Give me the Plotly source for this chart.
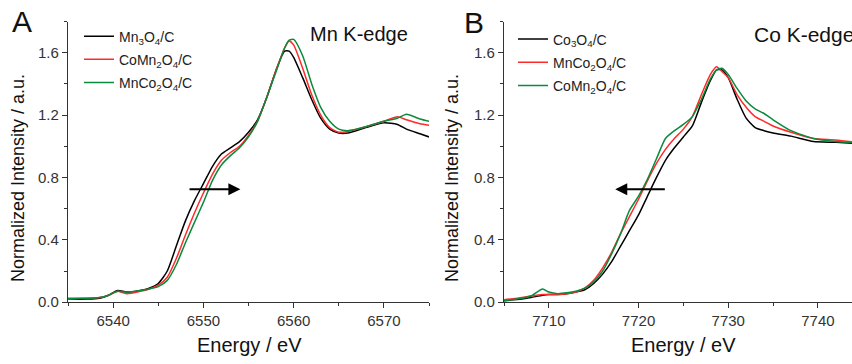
import plotly.graph_objects as go

# ---------------- Data ----------------
# Panel A: Mn K-edge
energy_mn = [6535, 6537, 6538.5, 6539.5, 6540.5, 6541.5, 6543, 6544, 6545, 6546, 6547, 6548,
             6549, 6550, 6551, 6552, 6553, 6554, 6555, 6556, 6557, 6558, 6559, 6559.5, 6560,
             6561, 6562, 6563, 6564, 6565, 6566, 6568, 6570, 6571.5, 6572.5, 6574, 6575]
mn3o4_c = [0.02, 0.02, 0.025, 0.045, 0.075, 0.065, 0.075, 0.09, 0.12, 0.20, 0.36, 0.52,
           0.65, 0.76, 0.87, 0.95, 0.99, 1.03, 1.09, 1.17, 1.31, 1.48, 1.61, 1.61, 1.57,
           1.44, 1.30, 1.18, 1.11, 1.085, 1.085, 1.12, 1.15, 1.14, 1.11, 1.08, 1.06]
comn2o4_c_mn = [0.02, 0.025, 0.03, 0.045, 0.07, 0.055, 0.07, 0.085, 0.11, 0.16, 0.28, 0.43,
                0.57, 0.70, 0.82, 0.91, 0.96, 1.00, 1.07, 1.16, 1.31, 1.48, 1.63, 1.675, 1.65,
                1.50, 1.33, 1.20, 1.12, 1.09, 1.095, 1.125, 1.16, 1.19, 1.17, 1.145, 1.135]
mnco2o4_c_mn = [0.025, 0.025, 0.03, 0.045, 0.07, 0.065, 0.075, 0.085, 0.10, 0.14, 0.24, 0.38,
                0.51, 0.64, 0.78, 0.88, 0.94, 0.99, 1.06, 1.16, 1.31, 1.47, 1.63, 1.68, 1.685,
                1.58, 1.40, 1.25, 1.16, 1.11, 1.10, 1.125, 1.16, 1.18, 1.205, 1.175, 1.16]

# Panel B: Co K-edge
energy_co = [7705, 7707, 7708, 7709.3, 7710, 7711, 7712, 7713, 7714, 7715, 7716, 7717, 7718,
             7719, 7720, 7721, 7722, 7723, 7724, 7725, 7726, 7727, 7728, 7728.7, 7729.3, 7730,
             7731, 7732, 7733, 7734, 7735, 7737, 7739.5, 7742, 7745]
co3o4_c = [0.01, 0.02, 0.03, 0.045, 0.05, 0.05, 0.055, 0.065, 0.08, 0.12, 0.18, 0.26, 0.36,
           0.46, 0.56, 0.68, 0.80, 0.91, 0.99, 1.06, 1.13, 1.28, 1.42, 1.49, 1.49, 1.44,
           1.30, 1.18, 1.12, 1.10, 1.085, 1.065, 1.03, 1.025, 1.015]
mnco2o4_c_co = [0.015, 0.03, 0.04, 0.05, 0.05, 0.05, 0.055, 0.065, 0.09, 0.14, 0.22, 0.32, 0.44,
                0.55, 0.66, 0.78, 0.89, 0.98, 1.05, 1.11, 1.19, 1.33, 1.46, 1.51, 1.48, 1.44,
                1.33, 1.25, 1.19, 1.16, 1.13, 1.09, 1.05, 1.04, 1.02]
comn2o4_c_co = [0.01, 0.025, 0.04, 0.085, 0.065, 0.055, 0.06, 0.07, 0.09, 0.13, 0.20, 0.31, 0.44,
                0.59, 0.68, 0.79, 0.92, 1.05, 1.10, 1.14, 1.19, 1.30, 1.43, 1.49, 1.50, 1.46,
                1.37, 1.29, 1.24, 1.21, 1.17, 1.10, 1.05, 1.03, 1.02]

labels_a = ["Mn<sub>3</sub>O<sub>4</sub>/C", "CoMn<sub>2</sub>O<sub>4</sub>/C", "MnCo<sub>2</sub>O<sub>4</sub>/C"]
labels_b = ["Co<sub>3</sub>O<sub>4</sub>/C", "MnCo<sub>2</sub>O<sub>4</sub>/C", "CoMn<sub>2</sub>O<sub>4</sub>/C"]
colors = ["#000000", "#ff2a2a", "#0a8a3c"]

# arrows (tail -> head) at y level
arrow_a = (6548.3, 6554.1, 0.725)
arrow_b = (7723.1, 7717.4, 0.725)

# ---------------- Figure ----------------
W, H = 852, 364
FONT = "Liberation Sans, Arial, Helvetica, sans-serif"

fig = go.Figure()
for i, ys in enumerate([mn3o4_c, comn2o4_c_mn, mnco2o4_c_mn]):
    fig.add_trace(go.Scatter(x=energy_mn, y=ys, mode="lines", name=labels_a[i],
                             line=dict(color=colors[i], width=1.5, shape="spline", smoothing=0.6),
                             xaxis="x", yaxis="y", legend="legend", legendgroup="a%d" % i))
for i, ys in enumerate([co3o4_c, mnco2o4_c_co, comn2o4_c_co]):
    fig.add_trace(go.Scatter(x=energy_co, y=ys, mode="lines", name=labels_b[i],
                             line=dict(color=colors[i], width=1.5, shape="spline", smoothing=0.6),
                             xaxis="x2", yaxis="y2", legend="legend2", legendgroup="b%d" % i))

ydom = [(H - 309) / H, (H - 22) / H]
axis_common = dict(showline=True, linecolor="#333333", linewidth=1.3, ticks="outside",
                   ticklen=5, tickwidth=1.2, tickcolor="#333333", showgrid=False, zeroline=False,
                   tickfont=dict(family=FONT, size=15, color="#333333"), mirror=False)
xminor = dict(dtick=5, ticks="outside", ticklen=3, tickcolor="#333333", tickwidth=1)
yminor = dict(dtick=0.2, ticks="outside", ticklen=3, tickcolor="#333333", tickwidth=1)

fig.update_layout(
    width=W, height=H, margin=dict(l=0, r=0, t=0, b=0),
    paper_bgcolor="white", plot_bgcolor="white",
    font=dict(family=FONT, color="#222222"),
    xaxis=dict(domain=[68 / W, 429 / W], range=[6535, 6575], anchor="y", dtick=10, tick0=6530,
               minor=xminor, **axis_common),
    yaxis=dict(domain=ydom, range=[0, 1.8], anchor="x", dtick=0.4, tick0=0, tickformat=".1f",
               minor=yminor, **axis_common),
    xaxis2=dict(domain=[504 / W, 1.0], range=[7705, 7743.8], anchor="y2", dtick=10, tick0=7700,
                minor=xminor, **axis_common),
    yaxis2=dict(domain=ydom, range=[0, 1.8], anchor="x2", dtick=0.4, tick0=0, tickformat=".1f",
                minor=yminor, **axis_common),
    legend=dict(x=79 / W, y=1 - 21 / H, xanchor="left", yanchor="top", bgcolor="rgba(0,0,0,0)",
                borderwidth=0, font=dict(family=FONT, size=14, color="#222222"),
                tracegroupgap=2, itemwidth=30),
    legend2=dict(x=513 / W, y=1 - 24 / H, xanchor="left", yanchor="top", bgcolor="rgba(0,0,0,0)",
                 borderwidth=0, font=dict(family=FONT, size=14, color="#222222"),
                 tracegroupgap=2, itemwidth=30),
    showlegend=True,
)

ann = []
def paper_text(text, px, py, size, **kw):
    d = dict(text=text, x=px / W, y=1 - py / H, xref="paper", yref="paper", showarrow=False,
             xanchor="center", yanchor="middle",
             font=dict(family=FONT, size=size, color="#111111"))
    d.update(kw)
    ann.append(d)

paper_text("A", 22, 22, 30)
paper_text("B", 474, 23, 30)
paper_text("Mn K-edge", 359, 35, 20)
paper_text("Co K-edge", 752, 35, 21, xanchor="left")
paper_text("Energy / eV", 249, 353, 20)
paper_text("Energy / eV", 683, 353, 20)
paper_text("Normalized Intensity / a.u.", 18, 182, 18, textangle=-90)
paper_text("Normalized Intensity / a.u.", 452, 182, 18, textangle=-90)

ann.append(dict(x=arrow_a[1], y=arrow_a[2], ax=arrow_a[0], ay=arrow_a[2], xref="x", yref="y",
                axref="x", ayref="y", text="", showarrow=True, arrowhead=2, arrowsize=1.2,
                arrowwidth=2, arrowcolor="#000000"))
ann.append(dict(x=arrow_b[1], y=arrow_b[2], ax=arrow_b[0], ay=arrow_b[2], xref="x2", yref="y2",
                axref="x2", ayref="y2", text="", showarrow=True, arrowhead=2, arrowsize=1.2,
                arrowwidth=2, arrowcolor="#000000"))
fig.update_layout(annotations=ann)

fig.write_html("out.html", config={"displayModeBar": False},
               post_script="document.body.style.margin='0';")
